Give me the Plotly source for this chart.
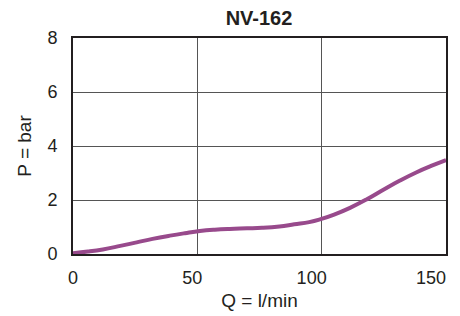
import plotly.graph_objects as go

title_text = "NV-162"
x_title = "Q = l/min"
y_title = "P = bar"

flow_q = [0, 6, 12, 19, 25.6, 32, 39, 45, 51, 57, 63, 70, 76, 83, 89, 95, 99.3,
          105, 111.4, 118, 125, 131.5, 138, 144.8, 150]
pressure_p = [0.03, 0.09, 0.17, 0.30, 0.43, 0.56, 0.68, 0.77, 0.85, 0.90, 0.93, 0.95, 0.97,
              1.02, 1.10, 1.18, 1.28, 1.46, 1.71, 2.02, 2.39, 2.72, 3.02, 3.29, 3.48]

x_ticks = [0, 50, 100, 150]
y_ticks = [0, 2, 4, 6, 8]

font_family = "Liberation Sans, Arial, Helvetica, sans-serif"

# the page body adds an 8px offset, so the figure is 8px smaller
W, H = 452, 308

fig = go.Figure()
fig.add_trace(go.Scatter(
    x=flow_q, y=pressure_p, mode="lines",
    line=dict(color="#984a8c", width=4, shape="spline", smoothing=1.3),
    hoverinfo="skip", showlegend=False,
))
# helper trace so the label axis is drawn
fig.add_trace(go.Scatter(
    x=x_ticks, y=[None] * len(x_ticks), xaxis="x2", mode="lines",
    hoverinfo="skip", showlegend=False,
))

fig.update_layout(
    width=W, height=H,
    margin=dict(l=65, r=14, t=30, b=62),
    paper_bgcolor="white", plot_bgcolor="white",
    font=dict(family=font_family, color="#231f20"),
    title=dict(text="<b>" + title_text + "</b>", x=251 / W, xanchor="center",
               y=1 - 9.5 / H, yanchor="middle",
               font=dict(size=20, color="#231f20")),
    xaxis=dict(
        range=[0, 150], tickvals=x_ticks, showticklabels=False,
        showgrid=True, gridcolor="#555555", gridwidth=1.2,
        zeroline=False, showline=True, linecolor="#231f20", linewidth=2,
        mirror=True, ticks="", automargin=False,
    ),
    xaxis2=dict(
        overlaying="x", side="bottom", range=[0, 156.3], tickvals=x_ticks,
        showgrid=False, zeroline=False, showline=False, ticks="",
        tickfont=dict(size=18), ticklabelstandoff=11, automargin=False,
        title=dict(text=x_title, font=dict(size=19), standoff=6),
    ),
    yaxis=dict(
        range=[0, 8], tickvals=y_ticks,
        showgrid=True, gridcolor="#555555", gridwidth=1.2,
        zeroline=False, showline=True, linecolor="#231f20", linewidth=2,
        mirror=True, ticks="", tickfont=dict(size=18), ticklabelstandoff=10,
        automargin=False,
        title=dict(text=y_title, font=dict(size=19), standoff=11),
    ),
)

fig.write_html("out.html")
